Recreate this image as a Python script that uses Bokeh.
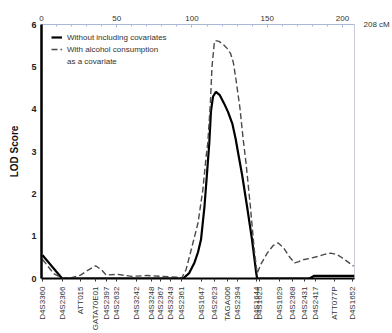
from bokeh.plotting import figure
from bokeh.models import LinearAxis, FixedTicker, Range1d, Legend, LegendItem
from bokeh.embed import file_html
from bokeh.resources import INLINE

# ---- data ----
marker_names = ["D4S3360", "D4S2366", "ATT015", "GATA70E01", "D4S2397", "D4S2632",
                "D4S3242", "D4S3248", "D4S2367", "D4S3243", "D4S2361", "D4S1647",
                "D4S2623", "TAGA006", "D4S2394", "D4S1644", "D4S1625", "D4S1629",
                "D4S2368", "D4S2431", "D4S2417", "ATT077P", "D4S1652"]
marker_cm = [0.7, 13.7, 26.0, 36.0, 43.0, 50.0, 63.0, 73.0, 79.0, 86.0, 93.0, 106.0,
             115.0, 123.5, 130.0, 143.0, 145.0, 158.0, 167.0, 174.5, 182.0, 195.0, 207.0]

solid_cm = [0.7, 13.7, 94.0, 98.0, 101.7, 104.0, 106.0, 108.3, 110.0, 111.5, 112.6,
            114.0, 115.9, 118.5, 121.4, 124.0, 126.8, 129.0, 131.0, 133.3, 136.6,
            139.9, 142.7, 143.3, 178.0, 181.0, 208.0]
solid_lod = [0.55, 0.0, 0.0, 0.12, 0.38, 0.62, 0.92, 1.7, 2.49, 3.2, 3.95,
             4.3, 4.41, 4.33, 4.13, 3.93, 3.66, 3.3, 2.9, 2.45, 1.7,
             0.92, 0.13, 0.0, 0.0, 0.06, 0.06]

dash_cm = [0.7, 8.0, 14.0, 20.0, 26.0, 31.0, 36.0, 40.0, 43.0, 50.0, 60.0, 70.0, 80.0,
           90.0, 93.0, 96.0, 99.5, 104.0, 107.2, 109.4, 110.5, 112.2, 113.3, 114.8,
           115.5, 118.0, 121.0, 123.5, 125.7, 127.5, 129.0, 131.8, 134.0, 136.0, 138.8,
           141.4, 143.3, 146.0, 150.0, 154.0, 157.3, 161.0, 165.0, 168.2, 171.0, 174.7,
           179.0, 183.5, 188.0, 192.2, 196.0, 199.8, 204.0, 207.4]
dash_lod = [0.45, 0.12, 0.0, 0.02, 0.08, 0.2, 0.3, 0.2, 0.08, 0.1, 0.05, 0.07, 0.05,
            0.03, 0.0, 0.2, 0.68, 1.31, 2.09, 2.88, 3.2, 4.13, 5.0, 5.55,
            5.62, 5.6, 5.52, 5.43, 5.31, 5.1, 4.76, 4.05, 3.3, 2.7, 1.7,
            0.68, 0.12, 0.35, 0.6, 0.78, 0.84, 0.72, 0.5, 0.37, 0.4, 0.45,
            0.48, 0.52, 0.57, 0.6, 0.57, 0.49, 0.38, 0.29]

top_ticks = [0, 50, 100, 150, 200]
y_ticks = [0, 1, 2, 3, 4, 5, 6]
end_label = "208 cM"
legend_labels = ["Without including covariates", "With alcohol consumption", "as a covariate"]

FONT = "Liberation Sans"

p = figure(width=392, height=333, output_backend="svg", toolbar_location=None,
           x_range=Range1d(0, 208), y_range=Range1d(0, 6),
           x_axis_location=None, y_axis_location=None,
           min_border_left=41, min_border_right=33, min_border_top=24,
           min_border_bottom=54)
p.grid.visible = False
p.outline_line_color = "#c8ccd6"
p.outline_line_width = 1
p.background_fill_color = "white"
p.border_fill_color = "white"

# left axis
ya = LinearAxis(ticker=FixedTicker(ticks=y_ticks), axis_label="LOD Score")
ya.axis_line_width = 2.5
ya.axis_line_color = "black"
ya.major_tick_out = 0
ya.major_tick_in = 0
ya.minor_tick_out = 0
ya.minor_tick_in = 0
ya.major_label_standoff = 5
ya.major_label_text_font = FONT
ya.major_label_text_font_size = "9px"
ya.major_label_text_font_style = "bold"
ya.major_label_text_color = "#222222"
ya.axis_label_text_font = FONT
ya.axis_label_text_font_size = "10px"
ya.axis_label_text_font_style = "bold"
ya.axis_label_text_color = "#111111"
ya.axis_label_standoff = 8
p.add_layout(ya, "left")

# right axis used only for the end-of-map label
ra = LinearAxis(ticker=FixedTicker(ticks=[6], minor_ticks=[]))
ra.major_label_overrides = {6: end_label}
ra.axis_line_color = None
ra.major_tick_line_color = None
ra.major_label_standoff = 3
ra.major_label_text_font = FONT
ra.major_label_text_font_size = "8px"
ra.major_label_text_color = "#333333"
p.add_layout(ra, "right")

# top axis
ta = LinearAxis(ticker=FixedTicker(ticks=top_ticks, minor_ticks=list(range(0, 209, 10))))
ta.axis_line_color = "#a9b8d8"
ta.axis_line_width = 1
ta.major_tick_line_color = "#a9b8d8"
ta.minor_tick_line_color = "#a9b8d8"
ta.major_tick_in = 3
ta.major_tick_out = 0
ta.minor_tick_in = 2
ta.minor_tick_out = 0
ta.major_label_standoff = 4
ta.major_label_text_font = FONT
ta.major_label_text_font_size = "8px"
ta.major_label_text_color = "#333333"
p.add_layout(ta, "above")

# bottom axis with markers
ba = LinearAxis(ticker=FixedTicker(ticks=marker_cm, minor_ticks=[]))
ba.major_label_overrides = {c: n for c, n in zip(marker_cm, marker_names)}
ba.major_label_orientation = 1.5708
ba.axis_line_width = 2
ba.axis_line_color = "black"
ba.major_tick_out = 3
ba.major_tick_in = 0
ba.major_tick_line_color = "#333333"
ba.major_label_standoff = 5
ba.major_label_text_font = FONT
ba.major_label_text_font_size = "8px"
ba.major_label_text_color = "#333333"
p.add_layout(ba, "below")

r_solid = p.line(solid_cm, solid_lod, line_color="black", line_width=2.2)
r_dash = p.line(dash_cm, dash_lod, line_color="#4a4a4a", line_width=1.4, line_dash="6 3")
r_blank = p.line([], [], line_alpha=0)

legend = Legend(items=[
    LegendItem(label=legend_labels[0], renderers=[r_solid]),
    LegendItem(label=legend_labels[1], renderers=[r_dash]),
    LegendItem(label=legend_labels[2], renderers=[r_blank]),
], location=(10, 212))
legend.border_line_color = None
legend.background_fill_alpha = 0
legend.padding = 0
legend.margin = 0
legend.spacing = 2
legend.glyph_width = 11
legend.glyph_height = 10
legend.label_height = 10
legend.label_standoff = 5
legend.label_text_font = FONT
legend.label_text_font_size = "8px"
legend.label_text_color = "#333333"
p.add_layout(legend)

open("out.html", "w").write(file_html(p, INLINE))
